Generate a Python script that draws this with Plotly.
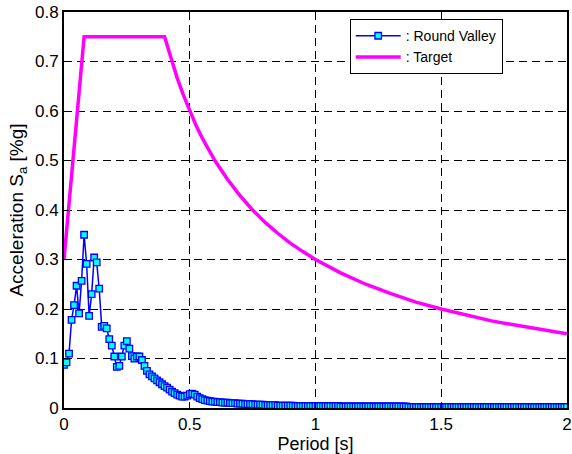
import plotly.graph_objects as go

# Round Valley spectrum: periods 0.00 .. 2.00 s (step 0.01), acceleration [%g]
rv_period = [round(i * 0.01, 2) for i in range(201)]
rv_accel = [
    0.087, 0.092, 0.110, 0.178, 0.208, 0.247, 0.191, 0.257, 0.350, 0.291,
    0.186, 0.230, 0.304, 0.294, 0.241, 0.164, 0.166, 0.161, 0.139, 0.126,
    0.104, 0.083, 0.085, 0.104, 0.126, 0.135, 0.120, 0.105, 0.100, 0.104,
    0.104, 0.097, 0.085, 0.075, 0.068, 0.064, 0.060, 0.056, 0.052, 0.048,
    0.044, 0.041, 0.037, 0.033, 0.030, 0.027, 0.025, 0.023, 0.023, 0.025,
    0.028, 0.029, 0.027, 0.023, 0.020, 0.018, 0.016, 0.015, 0.014, 0.013,
    0.013, 0.012, 0.012, 0.011, 0.011, 0.011, 0.010, 0.010, 0.010, 0.009,
    0.009, 0.009, 0.008, 0.008, 0.008, 0.008, 0.007, 0.007, 0.007, 0.007,
    0.006, 0.006, 0.006, 0.006, 0.006, 0.005, 0.005, 0.005, 0.005, 0.005,
    0.005, 0.005, 0.004, 0.004, 0.004, 0.004, 0.004, 0.004, 0.004, 0.004,
    0.004, 0.004, 0.004, 0.004, 0.004, 0.004, 0.004, 0.004, 0.004, 0.004,
    0.003, 0.003, 0.003, 0.003, 0.003, 0.003, 0.003, 0.003, 0.003, 0.003,
    0.003, 0.003, 0.003, 0.003, 0.003, 0.003, 0.003, 0.003, 0.003, 0.003,
    0.003, 0.003, 0.003, 0.003, 0.003, 0.003, 0.003, 0.002, 0.002, 0.002,
    0.002, 0.002, 0.002, 0.002, 0.002, 0.002, 0.002, 0.002, 0.002, 0.002,
    0.002, 0.002, 0.002, 0.002, 0.002, 0.002, 0.002, 0.002, 0.002, 0.002,
    0.002, 0.002, 0.002, 0.002, 0.002, 0.002, 0.002, 0.002, 0.002, 0.002,
    0.002, 0.002, 0.002, 0.002, 0.002, 0.002, 0.002, 0.002, 0.002, 0.002,
    0.002, 0.002, 0.002, 0.002, 0.002, 0.002, 0.002, 0.002, 0.002, 0.002,
    0.002, 0.002, 0.002, 0.002, 0.002, 0.002, 0.002, 0.002, 0.002, 0.002,
    0.002,
]

# Target design spectrum
target_period = [0.0, 0.08, 0.40, 0.425, 0.45, 0.475, 0.50, 0.525, 0.55, 0.575,
                 0.60, 0.65, 0.70, 0.75, 0.80, 0.85, 0.90, 0.95, 1.00, 1.10,
                 1.20, 1.30, 1.40, 1.50, 1.60, 1.70, 1.80, 1.90, 2.00]
target_accel = [0.30, 0.75, 0.75, 0.706, 0.667, 0.632, 0.600, 0.571, 0.545, 0.522,
                0.500, 0.462, 0.429, 0.400, 0.375, 0.353, 0.333, 0.316, 0.300, 0.273,
                0.250, 0.231, 0.214, 0.200, 0.1875, 0.176, 0.167, 0.158, 0.150]

x_ticks = [0, 0.5, 1, 1.5, 2]
x_ticklabels = ["0", "0.5", "1", "1.5", "2"]
y_ticks = [0, 0.1, 0.2, 0.3, 0.4, 0.5, 0.6, 0.7, 0.8]
y_ticklabels = ["0", "0.1", "0.2", "0.3", "0.4", "0.5", "0.6", "0.7", "0.8"]

fig = go.Figure()
fig.add_trace(go.Scatter(
    x=rv_period, y=rv_accel, mode="lines+markers", name=": Round Valley",
    line=dict(color="#0000ff", width=1.5),
    marker=dict(symbol="square", size=6.5, color="#00ffff",
                line=dict(color="#0000ff", width=1.3)),
))
fig.add_trace(go.Scatter(
    x=target_period, y=target_accel, mode="lines", name=": Target",
    line=dict(color="#ff00ff", width=3.5),
))

font_family = "Liberation Sans, Arial, sans-serif"
fig.update_layout(
    width=572, height=454,
    margin=dict(l=64, r=3, t=12, b=46),
    paper_bgcolor="white", plot_bgcolor="white",
    font=dict(family=font_family, size=17, color="black"),
    showlegend=True,
    legend=dict(
        x=0.568, y=0.982, xanchor="left", yanchor="top",
        bgcolor="white", bordercolor="black", borderwidth=1,
        font=dict(size=14, family=font_family),
        itemwidth=45, tracegroupgap=0,
    ),
    xaxis=dict(
        range=[0, 2.0005], tickvals=x_ticks, ticktext=x_ticklabels,
        showline=True, linecolor="black", linewidth=2, mirror=True,
        showgrid=True, gridcolor="black", gridwidth=1, griddash="8px,5px",
        ticks="inside", ticklen=5, tickcolor="black", zeroline=False,
        automargin=False,
        title=dict(text="Period [s]", font=dict(size=18), standoff=2),
    ),
    yaxis=dict(
        range=[0, 0.8], tickvals=y_ticks, ticktext=y_ticklabels,
        showline=True, linecolor="black", linewidth=2, mirror=True,
        showgrid=True, gridcolor="black", gridwidth=1, griddash="8px,5px",
        ticks="inside", ticklen=5, tickcolor="black", zeroline=False,
        title=dict(text="Acceleration S<sub>a</sub> [%g]", font=dict(size=19), standoff=6),
    ),
)

fig.write_html("out.html")
